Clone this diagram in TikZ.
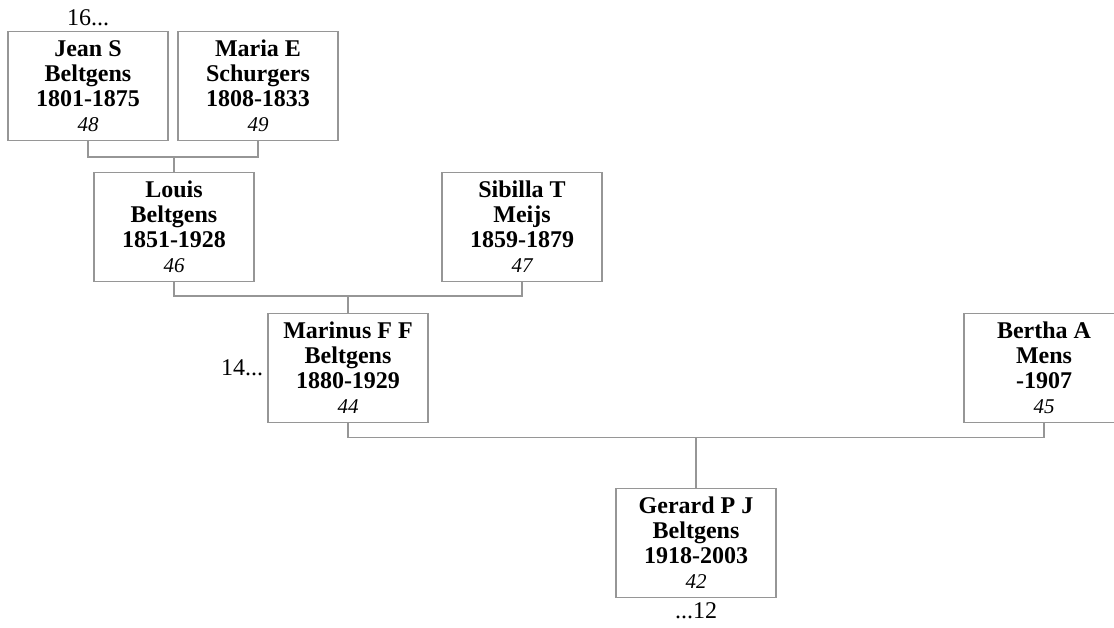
\documentclass[tikz,border=0pt]{standalone}
\usepackage{fontspec}
\setmainfont{Liberation Serif}
\usetikzlibrary{calc}
\usepackage{xcolor}

\definecolor{linegray}{RGB}{150,150,150}
\tikzset{
  person/.style={draw=linegray, line width=1.3pt, fill=white,
    minimum width=160pt, minimum height=109pt, inner sep=0pt,
    align=center, font=\bfseries\fontsize{24}{25}\selectfont},
  link/.style={draw=linegray, line width=1.3pt},
  more/.style={font=\fontsize{24}{26}\selectfont, inner sep=0pt}
}
\newcommand{\idno}[1]{\\[0pt]{\normalfont\itshape\fontsize{21}{22}\selectfont #1}}

\begin{document}
\begin{tikzpicture}[x=1pt,y=-1pt]

      \useasboundingbox (0,0) rectangle (1114,628);

      % Persons
      \node[person] (jean)    at (88,86)    {Jean S\\Beltgens\\1801-1875\idno{48}};
      \node[person] (maria)   at (258,86)   {Maria E\\Schurgers\\1808-1833\idno{49}};
      \node[person] (louis)   at (174,227)  {Louis\\Beltgens\\1851-1928\idno{46}};
      \node[person] (sibilla) at (522,227)  {Sibilla T\\Meijs\\1859-1879\idno{47}};
      \node[person] (marinus) at (348,368)  {Marinus F F\\Beltgens\\1880-1929\idno{44}};
      \node[person] (bertha)  at (1044,368) {Bertha A\\Mens\\-1907\idno{45}};
      \node[person] (gerard)  at (696,543)  {Gerard P J\\Beltgens\\1918-2003\idno{42}};

      % Parents to child
      \draw[link] (jean.south) -- ++(0,16) coordinate (j1) -| (maria.south);
      \draw[link] (louis.north) -- (louis.north |- j1);
      \draw[link] (louis.south) -- ++(0,14) coordinate (j2) -| (sibilla.south);
      \draw[link] (marinus.north) -- (marinus.north |- j2);
      \draw[link] (marinus.south) -- ++(0,14) coordinate (j3) -| (bertha.south);
      \draw[link] (gerard.north) -- (gerard.north |- j3);

      % Generation numbers
      \node[more, above=5pt] (gen16) at (jean.north) {16...};
      \node[more, left=4pt] (gen14) at (marinus.west) {14...};
      \node[more, below=4pt] (gen12) at (gerard.south) {...12};

\end{tikzpicture}
\end{document}
